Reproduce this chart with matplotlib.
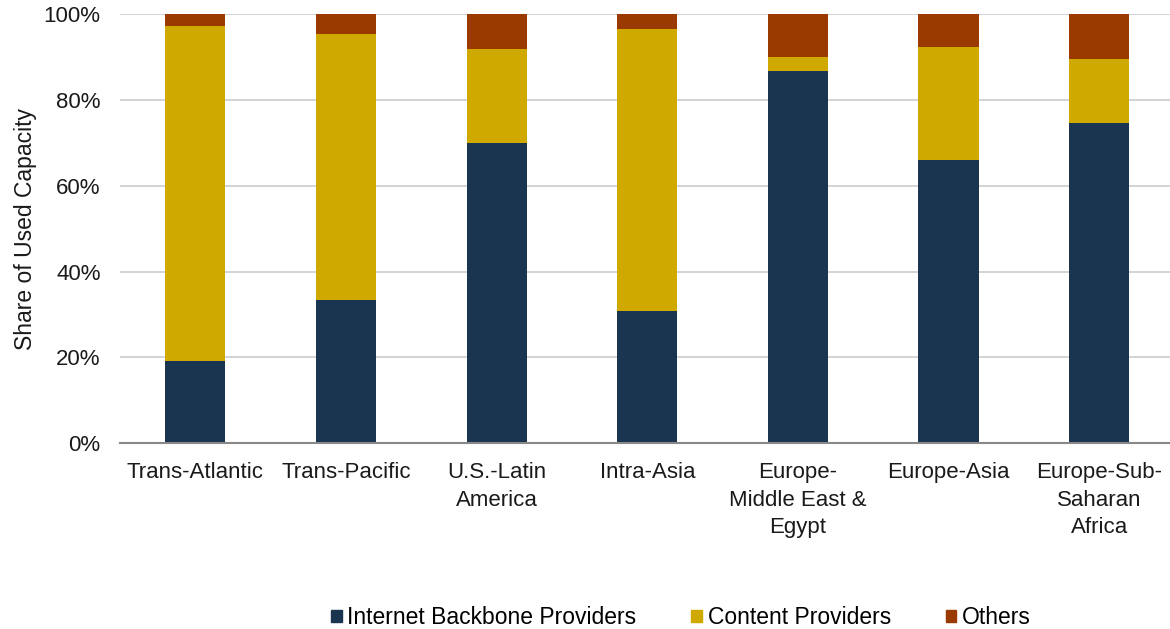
import numpy as np
import matplotlib
matplotlib.use('Agg')
import matplotlib.pyplot as plt
from matplotlib.patches import Patch
from matplotlib.ticker import PercentFormatter

plt.rcParams['font.family'] = ['Liberation Sans', 'DejaVu Sans']

# data (share of used capacity, %)
routes = ['Trans-Atlantic', 'Trans-Pacific', 'U.S.-Latin\nAmerica', 'Intra-Asia',
          'Europe-\nMiddle East &\nEgypt', 'Europe-Asia', 'Europe-Sub-\nSaharan\nAfrica']
backbone = [19.1, 33.4, 69.9, 30.8, 86.7, 66.0, 74.6]
content = [78.1, 62.0, 22.0, 65.7, 3.4, 26.4, 15.0]
others = [2.8, 4.6, 8.1, 3.5, 9.9, 7.6, 10.4]

c_backbone = '#1a3550'
c_content = '#cfa900'
c_others = '#9b3a00'

fig = plt.figure(figsize=(11.7, 6.29), dpi=100)
ax = fig.add_axes([0.1026, 0.2957, 0.8974, 0.6813])

x = np.arange(len(routes))
w = 0.4
ax.bar(x, backbone, w, color=c_backbone, zorder=2)
ax.bar(x, content, w, bottom=backbone, color=c_content, zorder=2)
ax.bar(x, others, w, bottom=np.add(backbone, content), color=c_others, zorder=2)

ax.set_xlim(-0.5, 6.47)
ax.set_ylim(0, 100)
ax.set_yticks(range(0, 101, 20))
ax.yaxis.set_major_formatter(PercentFormatter(decimals=0))
ax.set_xticks(x)
ax.set_xticklabels(routes, fontsize=16, color='#1a1a1a', linespacing=1.38)
ax.tick_params(axis='y', labelsize=16, labelcolor='#1a1a1a', length=0, pad=14)
ax.tick_params(axis='x', length=0, pad=14)
ax.grid(axis='y', color='#cccccc', linewidth=1.2, zorder=0)
for s in ['top', 'right', 'left']:
    ax.spines[s].set_visible(False)
ax.spines['bottom'].set_color('#888888')
ax.spines['bottom'].set_linewidth(1.5)
ax.spines['bottom'].set_zorder(3)
ax.set_ylabel('Share of Used Capacity', fontsize=16.5, color='#1a1a1a', labelpad=5)

handles = [Patch(color=c_backbone), Patch(color=c_content), Patch(color=c_others)]
fig.legend(handles, ['Internet Backbone Providers', 'Content Providers', 'Others'],
           loc='center', bbox_to_anchor=(681 / 1170, 1 - 618 / 629), ncol=3,
           frameon=False, fontsize=16.5, handlelength=0.45, handleheight=0.45,
           handletextpad=0.25, columnspacing=2.4)

fig.savefig('out.png', dpi=100)
